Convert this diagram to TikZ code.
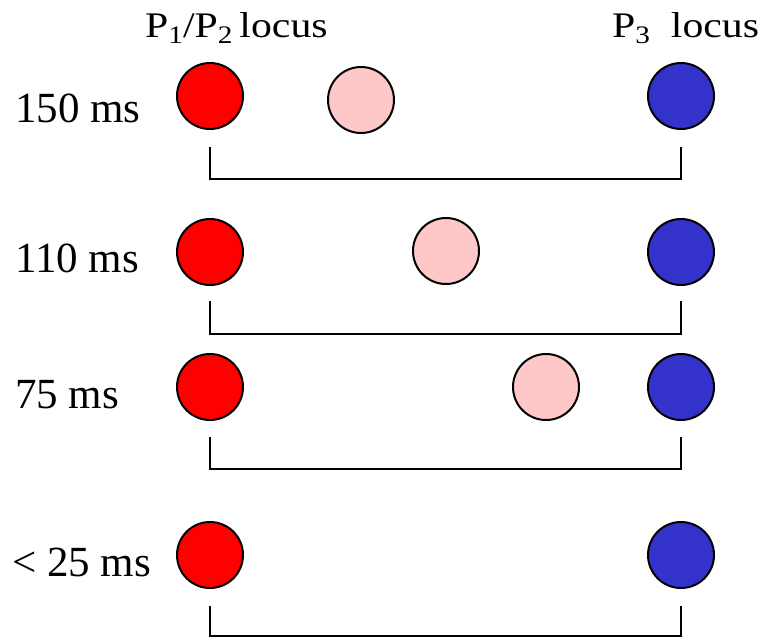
\documentclass[tikz,border=0pt]{standalone}
\usepackage{fontspec}
\setmainfont{Liberation Serif}
\definecolor{locRed}{HTML}{FF0000}
\definecolor{locPink}{HTML}{FFC8C8}
\definecolor{locBlue}{HTML}{3333CC}
\newcommand{\locsub}[1]{\raisebox{-0.4ex}{\scalebox{0.7}{#1}}}
\begin{document}
\begin{tikzpicture}[x=1pt, y=-1pt,
  blob/.style={circle, draw=black, line width=2pt, minimum size=66pt, inner sep=0pt},
  lab/.style={anchor=base west, inner sep=0pt, font=\fontsize{43}{48}\selectfont},
  head/.style={anchor=base west, inner sep=0pt, font=\fontsize{36}{40}\selectfont, xscale=1.16, transform shape},
  brk/.style={line width=2pt}]
\useasboundingbox (0,0) rectangle (769,638);
% headers
\node[head] (h12) at (145,37) {P\locsub{1}/P\locsub{2}\,locus};
\node[head] (h3) at (612,37) {P\locsub{3}~~locus};
% row labels
\node[lab] (t1) at (15,122) {150 ms};
\node[lab] (t2) at (15,272) {110 ms};
\node[lab] (t3) at (15,408) {75 ms};
\node[lab] (t4) at (12,576) {< 25 ms};
% P1/P2 locus
\node[blob, fill=locRed] (r1) at (210,96) {};
\node[blob, fill=locRed] (r2) at (210,252) {};
\node[blob, fill=locRed] (r3) at (210,387) {};
\node[blob, fill=locRed] (r4) at (210,555) {};
% P3 locus
\node[blob, fill=locBlue] (b1) at (681,96) {};
\node[blob, fill=locBlue] (b2) at (681,252) {};
\node[blob, fill=locBlue] (b3) at (681,387) {};
\node[blob, fill=locBlue] (b4) at (681,555) {};
% moving source
\node[blob, fill=locPink] (m1) at (361,100) {};
\node[blob, fill=locPink] (m2) at (446,251) {};
\node[blob, fill=locPink] (m3) at (546,387) {};
% brackets
\coordinate (r1a) at (210,147); \coordinate (b1a) at (681,147);
\coordinate (r2a) at (210,301); \coordinate (b2a) at (681,301);
\coordinate (r3a) at (210,437); \coordinate (b3a) at (681,437);
\coordinate (r4a) at (210,606); \coordinate (b4a) at (681,606);
\draw[brk] (r1a) -- ++(0,32) -| (b1a);
\draw[brk] (r2a) -- ++(0,33) -| (b2a);
\draw[brk] (r3a) -- ++(0,32) -| (b3a);
\draw[brk] (r4a) -- ++(0,30) -| (b4a);
\end{tikzpicture}
\end{document}
